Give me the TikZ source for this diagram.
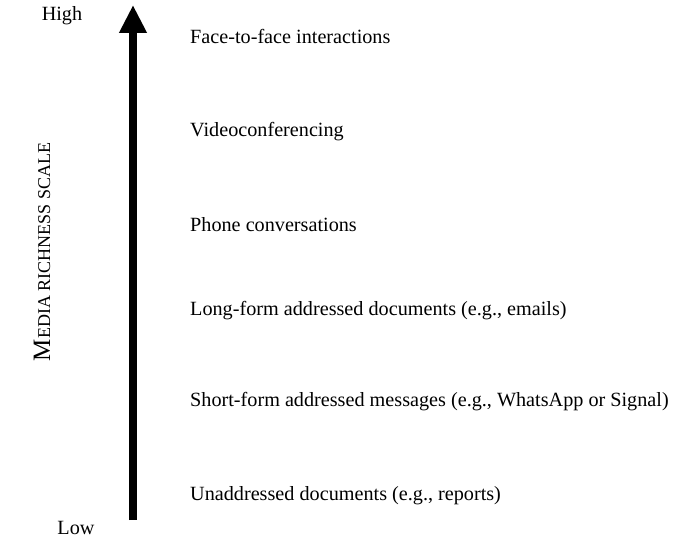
\documentclass[tikz,border=0pt]{standalone}
\usepackage{fontspec}
\setmainfont{Liberation Serif}
\usetikzlibrary{arrows.meta}
\begin{document}
\begin{tikzpicture}
	[x=1pt,y=1pt,
	 label/.style={inner sep=0pt,font=\fontsize{20.2}{23}\selectfont},
	 item/.style={label,anchor=west}]

	\useasboundingbox (0,0) rectangle (673,539);

	% scale arrow
	\coordinate (Low) at (133,19);
	\coordinate (High) at (133,534);
	\draw[line width=7.5pt,-{Triangle[width=26pt,length=28pt]}] (Low) -- (High);

	\node[label] (hightext) at (62,523) {High};
	\node[label] (lowtext) at (76,11) {Low};
	\node[label,rotate=90] (scaletext) at (42,287)
		{{\fontsize{25}{27}\selectfont M}{\fontsize{18}{20}\selectfont EDIA RICHNESS SCALE}};

	% media, richest first
	\foreach \y/\name/\txt in {
		503/face/Face-to-face interactions,
		407/video/Videoconferencing,
		314/phone/Phone conversations,
		228/long/{Long-form addressed documents (e.g., emails)},
		137/short/{Short-form addressed messages (e.g., WhatsApp or Signal)},
		43/unaddr/{Unaddressed documents (e.g., reports)}}
	{
		\node[item] (\name) at (190,\y) {\txt};
	}

\end{tikzpicture}
\end{document}
